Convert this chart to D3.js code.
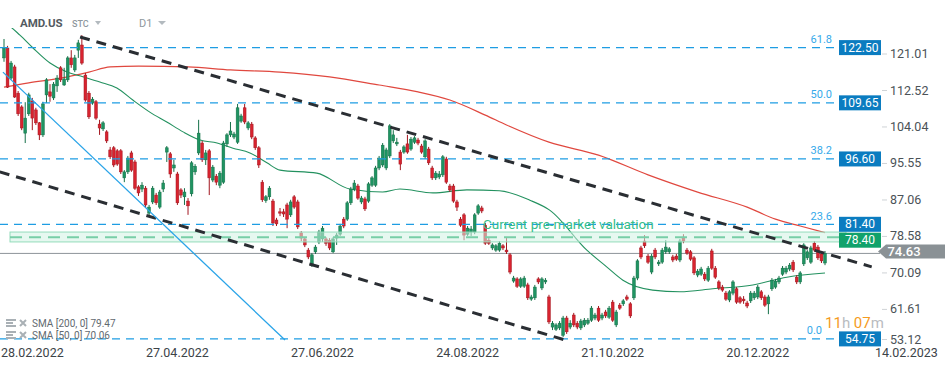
<!DOCTYPE html>
<html>
<head>
<meta charset="utf-8">
<script src="https://cdn.jsdelivr.net/npm/d3@7"></script>
<style>
  body { margin: 0; background: #fff; }
  svg { display: block; font-family: Roboto, "DejaVu Sans", sans-serif; }
</style>
</head>
<body>
<svg id="chart" width="949" height="370"></svg>
<script>
// ---- data ----
const ticker = "AMD.US", kind = "STC", interval = "D1";

// daily candles, [open, high, low, close], first bar mid Feb 2022
const ohlc = [
  [120.1,124.5,119.2,122.4],[122.4,122.9,113.1,113.3],[115.4,119.4,115.0,118.9],[118.0,118.5,110.8,111.0],
  [111.9,112.4,106.6,107.1],[108.7,109.1,103.3,103.8],[102.6,109.8,100.3,106.1],[107.1,112.0,106.6,111.5],
  [110.1,110.8,103.3,106.1],[108.0,108.5,104.5,105.0],[105.0,105.2,101.0,102.2],[102.2,109.9,101.7,109.4],
  [111.5,115.4,109.6,115.0],[112.2,114.0,109.9,111.2],[110.8,114.5,110.3,114.0],[113.6,116.1,112.2,115.4],
  [117.8,118.2,114.5,115.0],[113.8,117.8,113.6,115.2],[115.0,120.5,114.5,120.1],[120.1,121.9,117.8,118.5],
  [117.3,120.8,116.8,120.1],[121.9,124.3,120.1,123.6],[123.1,125.4,118.5,118.9],[116.1,116.6,109.9,110.3],
  [111.9,112.4,105.9,106.4],[109.6,111.0,109.2,110.5],[109.9,110.3,105.7,106.1],[104.7,105.7,102.2,103.8],
  [103.6,105.4,103.1,105.0],[102.9,103.3,100.3,100.8],[98.7,99.4,96.6,97.1],[99.2,99.6,94.7,95.2],
  [98.5,98.9,95.0,95.4],[98.5,98.9,93.1,93.6],[92.2,94.0,91.2,93.6],[93.6,97.3,93.1,96.8],
  [98.0,98.5,93.6,94.0],[95.9,96.4,89.4,89.8],[90.1,90.5,88.0,88.7],[89.6,91.2,88.9,90.5],
  [89.8,90.3,85.2,85.9],[84.0,85.9,83.3,85.4],[86.6,90.3,86.1,89.8],[88.2,88.7,85.9,86.4],
  [85.4,89.4,85.0,88.9],[89.6,91.7,88.9,91.0],[98.2,99.6,95.9,99.2],[97.8,98.2,92.2,93.1],
  [94.5,96.4,93.6,95.2],[93.1,93.6,85.9,86.4],[89.4,89.8,87.5,88.2],[87.8,89.8,85.9,88.9],
  [86.8,87.5,83.6,85.7],[88.5,96.1,87.9,95.7],[93.6,95.4,92.9,94.9],[98.0,105.7,97.5,102.6],
  [100.3,100.8,95.9,96.4],[96.4,98.7,95.2,98.0],[98.5,98.9,88.2,92.2],[91.7,95.2,91.2,94.7],
  [92.6,93.1,90.5,91.2],[90.5,93.8,89.8,93.3],[91.2,100.8,90.8,100.3],[100.1,102.6,99.4,102.2],
  [102.2,105.2,101.7,103.1],[101.7,102.9,101.2,102.4],[100.5,109.4,100.1,108.5],[105.4,107.1,105.0,106.6],
  [108.5,109.4,104.7,105.2],[103.8,105.4,103.3,105.0],[104.7,105.2,101.2,101.7],[101.5,101.9,98.7,99.2],
  [99.2,99.6,94.5,95.2],[91.2,91.7,86.6,87.1],[86.9,88.2,86.4,87.8],[87.8,90.3,87.1,89.8],
  [86.8,87.3,81.0,81.7],[82.4,82.9,81.0,81.5],[84.3,85.2,83.3,84.0],[84.3,85.0,83.1,83.8],
  [85.9,86.4,80.5,82.6],[83.6,87.1,83.1,86.6],[87.8,88.2,85.0,85.4],[86.6,87.1,80.3,80.8],
  [79.4,79.8,77.5,78.2],[78.0,78.4,76.1,76.6],[75.4,75.9,73.3,73.8],[71.9,74.7,71.5,74.3],
  [75.0,76.6,74.5,76.1],[77.3,80.1,76.8,79.6],[78.0,81.0,77.3,80.5],[78.0,78.4,76.4,77.0],
  [77.7,78.2,75.4,75.9],[75.0,78.4,74.7,78.0],[78.2,79.4,76.6,78.9],[79.1,81.5,78.7,81.0],
  [82.6,83.1,80.5,81.0],[82.6,86.8,82.2,86.4],[86.4,90.1,85.9,89.6],[89.6,91.7,89.1,91.0],
  [90.3,90.8,87.1,87.5],[86.6,88.0,86.1,87.5],[87.3,87.8,84.5,85.0],[86.8,91.2,86.4,90.8],
  [90.5,92.6,90.1,92.2],[90.5,95.0,90.1,94.5],[94.5,97.3,94.0,96.8],[95.2,100.3,94.7,99.8],
  [94.5,99.2,94.0,98.7],[97.3,104.7,96.8,104.3],[100.8,103.3,100.3,102.2],[100.1,101.5,99.6,100.5],
  [98.2,98.7,94.0,95.4],[98.2,99.8,97.8,99.4],[100.1,102.2,97.8,98.2],[98.9,101.7,98.5,101.2],
  [100.5,101.9,100.1,101.5],[101.0,101.5,99.8,100.3],[99.6,100.1,97.8,98.2],[97.1,101.2,96.6,100.8],
  [98.9,99.4,95.2,95.7],[94.5,95.0,91.7,92.2],[92.2,93.8,91.7,93.3],[92.4,93.8,91.9,93.1],
  [92.9,97.5,92.4,97.1],[96.6,97.1,90.8,91.2],[90.3,90.8,88.9,89.4],[90.3,90.8,86.4,86.8],
  [86.6,87.1,84.5,85.4],[82.6,83.1,80.8,81.2],[83.6,84.0,77.7,78.9],[79.1,81.0,78.7,80.5],
  [79.6,81.0,78.7,80.3],[79.6,84.0,79.1,83.6],[84.0,86.1,83.6,85.7],[85.2,85.7,84.0,84.5],
  [81.2,81.7,76.6,77.0],[77.7,78.2,76.6,77.0],[75.9,77.0,75.4,76.6],[75.4,76.8,75.0,76.4],
  [75.4,77.5,75.0,77.0],[76.4,76.8,75.4,75.9],[75.4,78.2,74.5,75.0],[74.3,74.7,69.8,70.3],
  [68.2,69.4,67.8,68.9],[68.7,69.1,66.6,67.0],[67.0,69.1,66.6,68.7],[67.0,69.4,66.6,68.9],
  [67.3,67.8,63.8,64.3],[64.0,65.0,63.6,64.5],[64.3,67.3,63.8,66.8],[68.7,69.1,67.5,68.0],
  [66.6,69.1,66.1,68.7],[68.0,68.9,67.5,68.4],[64.5,65.0,58.2,58.7],[57.5,58.9,56.8,58.4],
  [57.0,58.4,56.6,58.0],[57.3,58.9,56.8,58.4],[55.6,60.1,55.2,59.6],[59.6,60.1,55.9,56.4],
  [57.5,59.1,57.0,58.4],[60.3,60.8,57.5,58.0],[58.4,58.9,57.0,57.5],[57.3,59.4,56.8,58.9],
  [58.0,59.6,57.5,59.1],[58.4,59.6,58.0,59.1],[59.1,62.4,58.7,61.9],[59.6,60.8,59.1,60.3],
  [61.9,62.4,58.7,59.1],[59.6,60.8,59.1,60.3],[61.0,61.5,59.6,60.1],[59.8,62.4,59.4,61.9],
  [63.3,63.8,58.7,59.1],[58.0,61.5,57.5,61.0],[62.6,63.1,61.5,61.9],[62.9,64.0,62.4,63.6],
  [64.5,65.0,63.6,64.0],[62.9,63.3,59.6,60.1],[64.3,69.4,63.8,68.9],[68.9,73.3,68.4,72.9],
  [75.9,76.4,73.3,73.8],[77.5,78.9,75.9,76.4],[74.0,74.5,72.2,72.6],[70.3,74.5,69.8,74.0],
  [75.4,75.9,73.3,73.8],[72.2,73.1,71.7,72.6],[72.6,75.9,72.2,75.4],[75.0,77.7,74.5,76.1],
  [75.0,76.1,74.5,75.7],[73.8,74.3,72.6,73.1],[74.0,74.5,72.9,73.3],[73.1,78.0,72.6,77.5],
  [78.4,79.1,77.0,77.5],[75.4,75.9,74.3,74.7],[75.0,75.4,72.9,73.3],[73.6,74.0,69.6,70.1],
  [69.6,71.0,69.1,70.5],[69.8,71.5,69.4,71.0],[69.8,70.3,68.2,68.7],[68.4,71.7,68.0,71.2],
  [75.2,75.7,70.8,71.2],[71.2,71.7,68.7,69.1],[68.0,68.4,66.1,66.6],[66.8,67.3,65.7,66.1],
  [65.4,65.9,63.6,64.0],[63.8,66.1,63.3,65.7],[65.4,68.4,64.9,68.0],[66.4,66.8,62.9,63.3],
  [64.3,64.7,62.9,63.3],[64.0,64.7,62.9,63.6],[63.1,63.6,61.9,62.4],[63.6,65.9,63.1,65.4],
  [64.3,65.9,63.8,65.4],[64.5,67.3,64.0,66.8],[65.7,66.1,63.8,64.3],[64.5,65.0,62.2,62.6],
  [62.9,65.0,60.5,64.5],[66.4,68.9,65.9,68.4],[66.8,68.7,66.4,68.2],[68.0,69.4,67.5,68.9],
  [69.8,71.7,69.4,71.2],[70.3,71.7,69.8,71.2],[71.0,72.4,70.5,71.9],[72.6,73.1,70.3,70.8],
  [69.1,69.6,67.5,68.0],[68.0,70.5,67.5,70.1],[72.2,77.0,71.7,76.6],[73.6,75.4,73.1,75.0],
  [72.6,76.4,72.2,75.9],[77.0,77.5,75.0,75.4],[76.1,76.6,73.1,73.6],[74.5,75.0,72.4,72.9],
  [72.4,75.2,71.9,74.63]
];

// moving averages, read at bar index
const sma200Idx = [0, 7, 16, 24, 30, 38, 52, 64, 78, 92, 106, 117, 126, 136, 142, 154, 168, 182, 196, 210, 218, 225, 232];
const sma200Val = [113.3, 114.3, 115.4, 116.8, 118.0, 118.2, 118.0, 117.3, 116.8, 115.7, 113.8, 112.2, 110.3, 106.8, 104.5, 100.5, 97.5, 92.9, 88.9, 85.4, 82.6, 81.0, 79.47];
const sma50Idx = [0, 1, 4.5, 8.2, 13, 17.8, 22.3, 27.1, 31.9, 36.4, 41.2, 46, 50.6, 55.4, 60.2, 64.7, 69.5, 74.3, 78, 88.4, 97.7, 107, 111.9, 121.2, 130.8, 140, 148.6, 154.2, 164.7, 170.3, 174.9, 183.3, 191, 200.3, 211.6, 221.2, 232];
const sma50Val = [128.2, 127.8, 125.4, 122.4, 118.9, 116.8, 115.7, 114.5, 113.1, 110.3, 107.5, 105.2, 102.9, 101.0, 100.3, 99.1, 98.0, 95.7, 94.0, 93.3, 89.6, 88.9, 89.6, 88.7, 89.4, 89.2, 87.0, 84.7, 75.4, 71.5, 68.4, 66.1, 65.7, 66.4, 67.3, 69.1, 70.06];

// fibonacci retracement
const fibPct = ["61.8", "50.0", "38.2", "23.6", "0.0"];
const fibPrice = [122.50, 109.65, 96.60, 81.40, 54.75];

// drawn lines: [barIndex, price] end points
const upperTrend = [[21.5, 124.96], [245.2, 71.5]];
const lowerTrend = [[-1.2, 93.6], [158.5, 54.5]];
const blueLine = [[-0.3, 116.8], [79.4, 54.5]];

const premarket = 78.40, bandLow = 77.3, bandHigh = 79.6;
const lastPrice = 74.63;

const yTicks = [121.01, 112.52, 104.04, 95.55, 87.06, 78.58, 70.09, 61.61, 53.12];
const dateIdx = [8, 49, 90, 131, 172, 213, 255];
const dateLabels = ["28.02.2022", "27.04.2022", "27.06.2022", "24.08.2022", "21.10.2022", "20.12.2022", "14.02.2023"];

const smaLegend = ["SMA  [200,  0]  79.47", "SMA  [50,  0]  70.06"];

// ---- chart ----
const svg = d3.select("#chart");
const x = d3.scaleLinear().domain([0, 232]).range([4, 825]);
const y = d3.scaleLinear().domain([53.12, 121.01]).range([345.9, 54]);

const upCol = "#1f9462", upStroke = "#157048", downCol = "#d8232f", downStroke = "#a3161f";
const fibCol = "#1e9de3";

svg.append("defs").append("clipPath").attr("id", "plot")
  .append("rect").attr("x", 0).attr("y", 28).attr("width", 880).attr("height", 318);

const plot = svg.append("g").attr("clip-path", "url(#plot)");

// current price line
plot.append("line")
  .attr("x1", 0).attr("x2", 880)
  .attr("y1", y(lastPrice)).attr("y2", y(lastPrice))
  .attr("stroke", "#8d9499").attr("stroke-width", 1);

// moving averages
const lineGen = d3.line().x(d => x(d[0])).y(d => y(d[1])).curve(d3.curveMonotoneX);
plot.append("path")
  .datum(sma200Idx.map((d, i) => [d, sma200Val[i]]))
  .attr("d", lineGen).attr("fill", "none")
  .attr("stroke", "#e0483f").attr("stroke-width", 1.2);
plot.append("path")
  .datum(sma50Idx.map((d, i) => [d, sma50Val[i]]))
  .attr("d", lineGen).attr("fill", "none")
  .attr("stroke", "#23915f").attr("stroke-width", 1.1);

// candles
const cg = plot.append("g").selectAll("g")
  .data(ohlc)
  .join("g");
cg.append("line")
  .attr("x1", (d, i) => x(i)).attr("x2", (d, i) => x(i))
  .attr("y1", d => y(d[1])).attr("y2", d => y(d[2]))
  .attr("stroke", d => d[3] >= d[0] ? upStroke : downStroke).attr("stroke-width", 1);
cg.append("rect")
  .attr("x", (d, i) => x(i) - 1.4).attr("width", 2.8)
  .attr("y", d => y(Math.max(d[0], d[3])))
  .attr("height", d => Math.max(1, Math.abs(y(d[0]) - y(d[3]))))
  .attr("fill", d => d[3] >= d[0] ? upCol : downCol)
  .attr("stroke", d => d[3] >= d[0] ? upStroke : downStroke).attr("stroke-width", 0.5);

// pre-market band
plot.append("rect")
  .attr("x", 10).attr("width", 836)
  .attr("y", y(bandHigh)).attr("height", y(bandLow) - y(bandHigh))
  .attr("fill", "#d2f3e4").attr("fill-opacity", 0.55)
  .attr("stroke", "#93dcbb").attr("stroke-width", 1);
plot.append("line")
  .attr("x1", 10).attr("x2", 846)
  .attr("y1", y(premarket)).attr("y2", y(premarket))
  .attr("stroke", "#78cea7").attr("stroke-width", 2).attr("stroke-dasharray", "12,7");

// fibonacci lines
plot.selectAll("line.fib")
  .data(fibPrice)
  .join("line").attr("class", "fib")
  .attr("x1", 0).attr("x2", 836)
  .attr("y1", d => y(d)).attr("y2", d => y(d))
  .attr("stroke", fibCol).attr("stroke-width", 1.3).attr("stroke-dasharray", "8,6");

// trend lines
const seg = d3.line().x(d => x(d[0])).y(d => y(d[1]));
[upperTrend, lowerTrend].forEach(t => {
  plot.append("path").datum(t).attr("d", seg)
    .attr("stroke", "#2a2e33").attr("stroke-width", 3)
    .attr("stroke-dasharray", "10,7").attr("fill", "none");
});
plot.append("path").datum(blueLine).attr("d", seg)
  .attr("stroke", "#2aa4e8").attr("stroke-width", 1.3).attr("fill", "none");

// annotation
svg.append("text")
  .attr("x", 483).attr("y", y(premarket) - 8)
  .attr("fill", "#36bd8a").attr("font-size", 13.5)
  .text("Current pre-market valuation");

// fib labels (the 0.0 one sits just left of the countdown)
svg.selectAll("text.fibpct")
  .data(fibPct)
  .join("text").attr("class", "fibpct")
  .attr("x", (d, i) => i === 4 ? 822 : 832).attr("y", (d, i) => y(fibPrice[i]) - 4.5)
  .attr("text-anchor", "end").attr("font-size", 11)
  .attr("fill", "#35a9ea")
  .text(d => d);

// price boxes on right
const boxes = fibPrice.map((p, i) => ({ v: p, txt: p.toFixed(2), col: "#0b7cc0", cy: y(p) }));
boxes.push({ v: premarket, txt: premarket.toFixed(2), col: "#11a26b", cy: y(premarket) + 3 });
const bx = svg.append("g").selectAll("g").data(boxes).join("g")
  .attr("transform", d => `translate(839,${d.cy - 7.5})`);
bx.append("rect").attr("width", 42).attr("height", 15).attr("fill", d => d.col);
bx.append("text").attr("x", 21).attr("y", 11.5).attr("text-anchor", "middle")
  .attr("fill", "#fff").attr("font-size", 12).text(d => d.txt);

// y axis
const yAxis = svg.append("g").attr("transform", "translate(882,0)")
  .call(d3.axisRight(y).tickValues(yTicks).tickSize(5).tickFormat(d3.format(".2f")));
yAxis.select(".domain").remove();
yAxis.selectAll(".tick").attr("transform", d => `translate(0,${Math.min(y(d), 339.5)})`);
yAxis.selectAll(".tick line").attr("stroke", "#cfd3d6");
yAxis.selectAll(".tick text").attr("x", 8).attr("fill", "#4b5257")
  .attr("font-size", 12.5).attr("font-family", "Roboto, sans-serif");

// last price tag
const tagY = y(lastPrice) - 2;
svg.append("path")
  .attr("d", `M878,${tagY} L886,${tagY - 7} L945,${tagY - 7} L945,${tagY + 7} L886,${tagY + 7} Z`)
  .attr("fill", "#8a9195");
svg.append("text").attr("x", 904).attr("y", tagY + 4.6).attr("text-anchor", "middle")
  .attr("fill", "#fff").attr("font-size", 13).attr("font-weight", 500).text(lastPrice.toFixed(2));

// date axis labels
svg.selectAll("text.date")
  .data(dateLabels)
  .join("text").attr("class", "date")
  .attr("x", (d, i) => x(dateIdx[i])).attr("y", 357)
  .attr("text-anchor", "middle").attr("font-size", 12.5)
  .attr("fill", "#3c4348")
  .text(d => d);

// header
svg.append("text").attr("x", 20).attr("y", 27).attr("font-size", 11.5).attr("font-weight", 700)
  .attr("fill", "#525a61").text(ticker);
svg.append("text").attr("x", 72).attr("y", 27).attr("font-size", 9).attr("font-weight", 500)
  .attr("fill", "#8f989e").text(kind);
svg.append("text").attr("x", 139).attr("y", 27).attr("font-size", 11)
  .attr("fill", "#8f989e").text(interval);
[[95, 101], [158, 166]].forEach(t => {
  svg.append("path").attr("d", `M${t[0]},21 L${t[1]},21 L${(t[0] + t[1]) / 2},25 Z`).attr("fill", "#b3babf");
});

// SMA legend
const lg = svg.append("g").selectAll("g").data(smaLegend).join("g")
  .attr("transform", (d, i) => `translate(6,${319 + i * 12})`);
lg.append("rect").attr("x", 0).attr("y", 0).attr("width", 10).attr("height", 2).attr("fill", "#a9b0b5");
lg.append("rect").attr("x", 0).attr("y", 3).attr("width", 7).attr("height", 2).attr("fill", "#a9b0b5");
lg.append("rect").attr("x", 0).attr("y", 6).attr("width", 10).attr("height", 2).attr("fill", "#a9b0b5");
lg.append("path").attr("d", "M14,1 L20,7 M20,1 L14,7").attr("stroke", "#a9b0b5").attr("stroke-width", 2);
lg.append("text").attr("x", 26).attr("y", 8).attr("font-size", 10).attr("fill", "#626a70").text(d => d);

// countdown
const cd = svg.append("text").attr("x", 825).attr("y", 328).attr("font-size", 15);
cd.append("tspan").attr("fill", "#f59b1e").text("11");
cd.append("tspan").attr("fill", "#b9bcbf").text("h ");
cd.append("tspan").attr("fill", "#f59b1e").text("07");
cd.append("tspan").attr("fill", "#b9bcbf").text("m");
</script>
</body>
</html>
